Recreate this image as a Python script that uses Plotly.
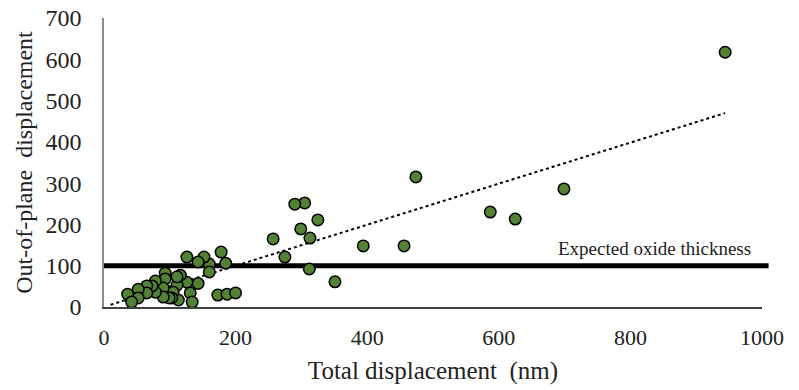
import plotly.graph_objects as go

# Measured displacements (nm): total vs. out-of-plane
total_disp = [944, 699, 625, 587, 474, 456, 394, 351, 325, 313, 312, 305, 299, 290, 275, 257,
              185, 178, 173, 187, 200, 160, 160, 152, 143, 143, 126, 126, 131, 134, 116, 111,
              113, 105, 103, 111, 99, 93, 93, 90, 90, 78, 78, 73, 65, 65, 52, 52, 36, 42]
out_of_plane = [617, 286, 213, 230, 315, 148, 148, 61, 211, 167, 92, 252, 189, 249, 121, 165,
                106, 133, 29, 31, 34, 104, 85, 121, 109, 57, 121, 60, 34, 12, 77, 53,
                17, 36, 22, 73, 22, 82, 68, 46, 24, 63, 36, 51, 51, 34, 43, 22, 31, 12]

# Linear trend (y = slope * x + intercept) and its x extent
trend_slope = 0.497
trend_intercept = 0.5
trend_x = [10, 944]
trend_y = [trend_slope * v + trend_intercept for v in trend_x]

oxide_thickness = 100
x_range = [0, 1000]
y_range = [0, 700]
x_ticks = [0, 200, 400, 600, 800, 1000]
y_ticks = [0, 100, 200, 300, 400, 500, 600, 700]

serif = "Liberation Serif, Times New Roman, serif"

fig = go.Figure()

fig.add_trace(go.Scatter(
    x=trend_x, y=trend_y, mode="lines",
    line=dict(color="black", width=2, dash="dot"),
    hoverinfo="skip", showlegend=False,
))

# Reference level for the expected oxide thickness
fig.add_shape(
    type="line", xref="paper", x0=0, x1=1.01,
    yref="y", y0=oxide_thickness, y1=oxide_thickness,
    line=dict(color="black", width=5), layer="below",
)

fig.add_trace(go.Scatter(
    x=total_disp, y=out_of_plane, mode="markers",
    marker=dict(size=11.5, color="#538135", line=dict(color="black", width=1.5)),
    showlegend=False,
))

fig.add_annotation(
    x=1, xref="paper", xanchor="right", xshift=-9,
    y=oxide_thickness, yref="y", yanchor="bottom", yshift=5,
    text="Expected oxide thickness", showarrow=False,
    font=dict(family=serif, size=19, color="#222222"),
)

fig.update_layout(
    width=799, height=390,
    margin=dict(l=104, r=37, t=18, b=83),
    paper_bgcolor="white", plot_bgcolor="white",
    font=dict(family=serif, size=20, color="#222222"),
)

fig.update_xaxes(
    range=x_range, tickvals=x_ticks, showgrid=False, zeroline=False,
    showline=True, linecolor="#404040", linewidth=1.5, automargin=False,
    ticks="", tickfont=dict(size=22), ticklabelstandoff=10,
    title=dict(text="Total displacement  (nm)", font=dict(size=25), standoff=12),
)
fig.update_yaxes(
    range=y_range, tickvals=y_ticks, showgrid=False, zeroline=False,
    showline=True, linecolor="#8c8c8c", linewidth=1.5, automargin=False,
    ticks="", tickfont=dict(size=24), ticklabelstandoff=16,
    title=dict(text="Out-of-plane  displacement", font=dict(size=24), standoff=6),
)

fig.write_html("out.html")
